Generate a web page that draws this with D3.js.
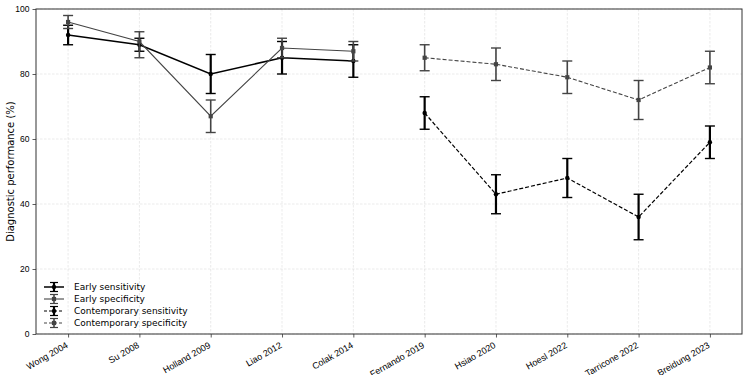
<!DOCTYPE html>
<html>
<head>
<meta charset="utf-8">
<script src="https://cdn.jsdelivr.net/npm/d3@7"></script>
<style>
  body { margin: 0; background: #fff; }
  svg { font-family: "DejaVu Sans", sans-serif; }
</style>
</head>
<body>
<svg id="chart" width="750" height="375"></svg>
<script>
const studies = ['Wong 2004', 'Su 2008', 'Holland 2009', 'Liao 2012', 'Colak 2014',
  'Fernando 2019', 'Hsiao 2020', 'Hoesl 2022', 'Tarricone 2022', 'Breidung 2023'];
const yTicks = [0, 20, 40, 60, 80, 100];

const earlyStudies = ['Wong 2004', 'Su 2008', 'Holland 2009', 'Liao 2012', 'Colak 2014'];
const earlySens = [92, 89, 80, 85, 84];
const earlySensLo = [89, 87, 74, 80, 79];
const earlySensHi = [95, 91, 86, 90, 89];
const earlySpec = [96, 90, 67, 88, 87];
const earlySpecLo = [94, 85, 62, 85, 84];
const earlySpecHi = [98, 93, 72, 91, 90];

const contStudies = ['Fernando 2019', 'Hsiao 2020', 'Hoesl 2022', 'Tarricone 2022', 'Breidung 2023'];
const contSens = [68, 43, 48, 36, 59];
const contSensLo = [63, 37, 42, 29, 54];
const contSensHi = [73, 49, 54, 43, 64];
const contSpec = [85, 83, 79, 72, 82];
const contSpecLo = [81, 78, 74, 66, 77];
const contSpecHi = [89, 88, 84, 78, 87];

const seriesNames = ['Early sensitivity', 'Early specificity', 'Contemporary sensitivity', 'Contemporary specificity'];

function build(names, v, lo, hi) {
  return names.map((n, i) => ({ name: n, v: v[i], lo: lo[i], hi: hi[i] }));
}

const series = [
  { label: seriesNames[0], data: build(earlyStudies, earlySens, earlySensLo, earlySensHi), color: '#000', lw: 1.5, ew: 2.2, dash: null, marker: 'circle' },
  { label: seriesNames[1], data: build(earlyStudies, earlySpec, earlySpecLo, earlySpecHi), color: '#444', lw: 1.1, ew: 1.6, dash: null, marker: 'square' },
  { label: seriesNames[2], data: build(contStudies, contSens, contSensLo, contSensHi), color: '#000', lw: 1.2, ew: 2.2, dash: '4,2', marker: 'circle' },
  { label: seriesNames[3], data: build(contStudies, contSpec, contSpecLo, contSpecHi), color: '#444', lw: 1.1, ew: 1.6, dash: '4,2', marker: 'square' }
];

const margin = { top: 9, right: 8, bottom: 41, left: 36 };
const width = 750 - margin.left - margin.right;
const height = 375 - margin.top - margin.bottom;

const svg = d3.select('#chart');
const g = svg.append('g').attr('transform', `translate(${margin.left},${margin.top})`);

const xIdx = d3.scaleLinear().domain([-0.45, studies.length - 1 + 0.45]).range([0, width]);
const x = name => xIdx(studies.indexOf(name));
const y = d3.scaleLinear().domain([0, 100]).range([height, 0]);

// grid
g.append('g').selectAll('line.gy').data(yTicks).join('line')
  .attr('x1', 0).attr('x2', width)
  .attr('y1', d => y(d)).attr('y2', d => y(d))
  .attr('stroke', '#d4d4d4').attr('stroke-width', 0.5).attr('stroke-dasharray', '2.5,1.5');
g.append('g').selectAll('line.gx').data(studies).join('line')
  .attr('x1', d => x(d)).attr('x2', d => x(d))
  .attr('y1', 0).attr('y2', height)
  .attr('stroke', '#d4d4d4').attr('stroke-width', 0.5).attr('stroke-dasharray', '2.5,1.5');

// axes
const yAxis = g.append('g').call(d3.axisLeft(y).tickValues(yTicks).tickSize(3.5).tickPadding(3));
const xAxis = g.append('g').attr('transform', `translate(0,${height})`)
  .call(d3.axisBottom(xIdx).tickValues(d3.range(studies.length)).tickFormat(i => studies[i]).tickSize(3.5).tickPadding(2));
[yAxis, xAxis].forEach(a => {
  a.select('.domain').remove();
  a.selectAll('.tick line').attr('stroke', '#333').attr('stroke-width', 0.8);
  a.selectAll('text').attr('fill', '#000').style('font-size', '8.5px');
});
xAxis.selectAll('text')
  .style('font-size', '9px')
  .attr('text-anchor', 'end')
  .attr('x', 0).attr('y', 0).attr('dy', 0)
  .attr('transform', 'translate(0,13) rotate(-30)');

// frame
g.append('rect').attr('width', width).attr('height', height)
  .attr('fill', 'none').attr('stroke', '#333').attr('stroke-width', 1);

const line = d3.line().x(d => x(d.name)).y(d => y(d.v));
const capW = 5;

function drawMarker(sel, s, cx, cy) {
  if (s.marker === 'circle') {
    sel.append('circle').attr('cx', cx).attr('cy', cy).attr('r', 2.2).attr('fill', s.color);
  } else {
    sel.append('rect').attr('x', cx - 2.1).attr('y', cy - 2.1).attr('width', 4.2).attr('height', 4.2).attr('fill', s.color);
  }
}

series.forEach(s => {
  const sg = g.append('g');
  sg.append('path').datum(s.data).attr('d', line)
    .attr('fill', 'none').attr('stroke', s.color).attr('stroke-width', s.lw)
    .attr('stroke-dasharray', s.dash);
  const eb = sg.selectAll('g.eb').data(s.data).join('g');
  eb.append('line').attr('x1', d => x(d.name)).attr('x2', d => x(d.name))
    .attr('y1', d => y(d.lo)).attr('y2', d => y(d.hi))
    .attr('stroke', s.color).attr('stroke-width', s.ew);
  ['lo', 'hi'].forEach(k => {
    eb.append('line').attr('x1', d => x(d.name) - capW).attr('x2', d => x(d.name) + capW)
      .attr('y1', d => y(d[k])).attr('y2', d => y(d[k]))
      .attr('stroke', s.color).attr('stroke-width', 1.4);
  });
  eb.each(function(d) { drawMarker(d3.select(this), s, x(d.name), y(d.v)); });
});

// legend
const leg = g.append('g').attr('transform', `translate(8,${height - 47})`);
series.forEach((s, i) => {
  const row = leg.append('g').attr('transform', `translate(0,${i * 12})`);
  row.append('line').attr('x1', 0).attr('x2', 20).attr('y1', 0).attr('y2', 0)
    .attr('stroke', s.color).attr('stroke-width', s.lw).attr('stroke-dasharray', s.dash ? '3,2' : null);
  row.append('line').attr('x1', 10).attr('x2', 10).attr('y1', -4.5).attr('y2', 4.5)
    .attr('stroke', s.color).attr('stroke-width', s.ew);
  [-4.5, 4.5].forEach(dy => row.append('line').attr('x1', 6).attr('x2', 14).attr('y1', dy).attr('y2', dy)
    .attr('stroke', s.color).attr('stroke-width', 1.2));
  drawMarker(row, s, 10, 0);
  row.append('text').attr('x', 30).attr('y', 0).attr('dy', '0.35em')
    .style('font-size', '9px').text(s.label);
});

// y label
svg.append('text')
  .attr('transform', `translate(14,${margin.top + height / 2}) rotate(-90)`)
  .attr('text-anchor', 'middle')
  .style('font-size', '10px')
  .text('Diagnostic performance (%)');
</script>
</body>
</html>
